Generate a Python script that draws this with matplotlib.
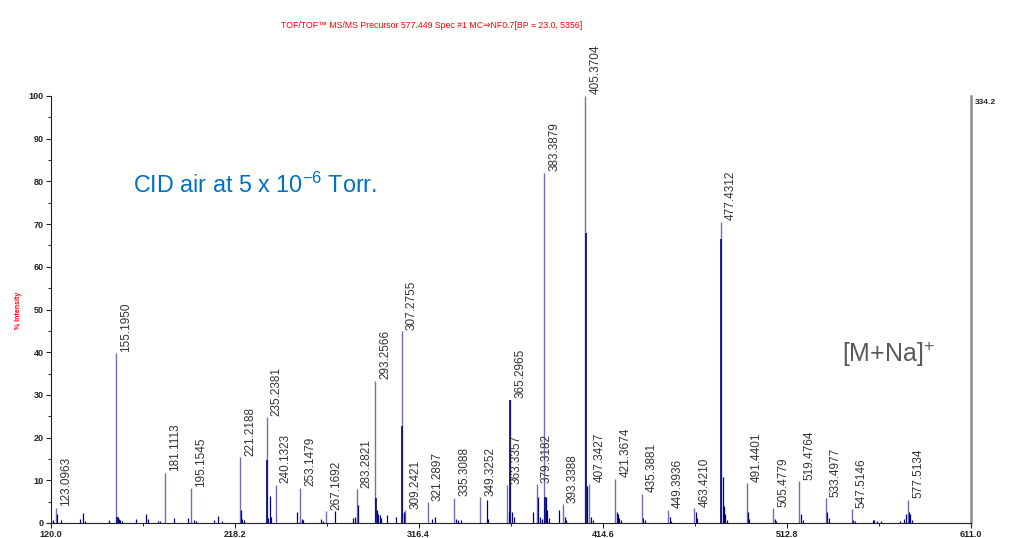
import matplotlib
matplotlib.use("Agg")
import matplotlib.pyplot as plt
from matplotlib.ticker import FixedLocator, MultipleLocator, FuncFormatter

plt.rcParams['font.family'] = ['Liberation Sans', 'DejaVu Sans']
plt.rcParams['mathtext.fontset'] = 'custom'
plt.rcParams['mathtext.rm'] = 'Liberation Sans'
plt.rcParams['mathtext.it'] = 'Liberation Sans'

# Annotated fragment ions (m/z, % intensity)
label_mz = [123.0963, 155.1950, 181.1113, 195.1545, 221.2188, 235.2381, 240.1323,
            253.1479, 267.1692, 283.2821, 293.2566, 307.2755, 309.2421, 321.2897,
            335.3088, 349.3252, 363.3357, 365.2965, 379.3182, 383.3879, 393.3388,
            405.3704, 407.3427, 421.3674, 435.3881, 449.3936, 463.4210, 477.4312,
            491.4401, 505.4779, 519.4764, 533.4977, 547.5146, 577.5134]
label_int = [3.6, 39.8, 11.8, 8.1, 15.4, 24.8, 8.9,
             8.2, 2.8, 7.9, 33.3, 44.9, 3.0, 4.9,
             5.9, 6.0, 8.8, 28.9, 9.1, 82.0, 4.4,
             100.0, 9.2, 10.4, 6.9, 3.1, 3.5, 70.5,
             9.3, 3.5, 9.8, 5.8, 3.2, 5.5]

# Dense core of the strongest profile peaks
core_mz = [155.35, 235.40, 293.40, 307.45, 365.30, 383.55, 405.50, 477.55]
core_int = [1.5, 14.7, 5.9, 22.7, 28.9, 6.0, 68.0, 66.5]

# Unlabelled minor signals
minor_mz = [120.5, 121.3, 123.5, 125.5, 135.5, 137.3, 138.5, 151.0, 156.0, 156.6,
            157.3, 158.0, 165.7, 171.1, 171.8, 177.5, 178.4, 185.7, 193.3, 196.4,
            197.5, 207.3, 209.6, 211.5, 221.6, 222.4, 223.3, 236.0, 237.0, 237.6,
            251.7, 254.0, 254.6, 264.5, 265.3, 271.8, 281.5, 282.2, 283.8, 294.0,
            294.8, 295.5, 296.5, 299.5, 304.5, 308.3, 308.8, 323.7, 325.2, 336.2,
            337.5, 339.0, 352.8, 353.6, 364.5, 366.3, 367.2, 377.5, 380.0, 381.0,
            382.2, 384.3, 385.0, 386.0, 391.5, 394.2, 395.0, 406.0, 408.4, 409.2,
            422.0, 422.7, 423.5, 424.5, 436.3, 437.0, 450.3, 451.0, 464.1, 465.0,
            478.5, 479.2, 480.0, 481.0, 491.8, 492.5, 506.2, 507.0, 520.4, 521.2,
            534.3, 535.0, 548.2, 549.0, 558.5, 559.2, 561.0, 563.0, 573.0, 575.5,
            576.5, 578.0, 578.6, 579.5]
minor_int = [0.7, 0.6, 2.0, 0.8, 0.9, 2.4, 0.5, 0.6, 1.4, 1.0,
             0.6, 0.4, 1.0, 2.0, 1.0, 0.4, 0.4, 1.1, 1.2, 0.7,
             0.5, 0.8, 1.7, 0.4, 3.1, 1.0, 0.6, 1.2, 6.3, 1.5,
             2.6, 1.0, 0.6, 1.0, 0.5, 2.7, 1.2, 1.5, 4.3, 3.0,
             2.2, 1.8, 1.2, 1.8, 1.3, 2.5, 2.0, 1.0, 1.3, 0.9,
             0.8, 0.6, 5.5, 1.0, 2.5, 2.5, 1.5, 2.5, 6.1, 1.5,
             1.0, 6.2, 3.0, 1.2, 3.0, 1.5, 0.8, 8.6, 1.5, 0.8,
             2.5, 2.0, 1.2, 0.6, 1.2, 0.6, 1.5, 0.5, 2.5, 1.2,
             10.8, 4.0, 2.0, 0.8, 2.5, 1.0, 1.0, 0.5, 2.0, 0.8,
             2.5, 1.2, 0.8, 0.5, 0.6, 0.8, 0.5, 0.4, 0.4, 1.0,
             2.0, 2.5, 2.0, 0.8]

x_ticks = [120.0, 218.2, 316.4, 414.6, 512.8, 611.0]
y_ticks = [0, 10, 20, 30, 40, 50, 60, 70, 80, 90, 100]

W, H = 1012, 538
fig = plt.figure(figsize=(W / 100, H / 100), dpi=100)
ax = fig.add_axes([50.5 / W, 15 / H, 920.5 / W, 427 / H])

light = '#6f6fc2'
dark = '#000080'
ax.vlines(label_mz, 0, label_int, colors=light, lw=1.0)
ax.vlines(minor_mz, 0, minor_int, colors=dark, lw=0.9)
ax.vlines(core_mz, 0, core_int, colors=dark, lw=1.2)

for mz, h in zip(label_mz, label_int):
    ax.annotate(f"{mz:.4f}", xy=(mz, h), xytext=(10, 1.5),
                textcoords='offset pixels', rotation=90, ha='center', va='bottom',
                fontsize=8.5, color='#333333', annotation_clip=False)

ax.set_xlim(x_ticks[0], x_ticks[-1])
ax.set_ylim(0, 100)

ax.xaxis.set_major_locator(FixedLocator(x_ticks))
ax.xaxis.set_minor_locator(FixedLocator([(a + b) / 2 for a, b in zip(x_ticks[:-1], x_ticks[1:])]))
ax.xaxis.set_major_formatter(FuncFormatter(lambda v, p: f"{v:.1f}"))
ax.yaxis.set_major_locator(FixedLocator(y_ticks))
ax.yaxis.set_minor_locator(MultipleLocator(5))

ax.tick_params(axis='both', which='major', direction='out', length=3.5, width=0.8,
               labelsize=6.5, pad=1.5, colors='#222222')
ax.tick_params(axis='both', which='minor', direction='out', length=2, width=0.7,
               colors='#222222')
for lab in ax.get_xticklabels() + ax.get_yticklabels():
    lab.set_fontweight('bold')

ax.spines['top'].set_visible(False)
ax.spines['left'].set_linewidth(0.8)
ax.spines['bottom'].set_linewidth(0.8)
ax.spines['left'].set_color('#222222')
ax.spines['bottom'].set_color('#222222')
ax.spines['right'].set_color('#8c8c8c')
ax.spines['right'].set_linewidth(1.8)

fig.text(975 / W, 1 - 102 / H, "334.2", fontsize=6, fontweight='bold',
         color='#222222', ha='left', va='center')

fig.text(432 / W, 1 - 25 / H,
         "TOF/TOF\u2122 MS/MS Precursor 577.449 Spec #1 MC\u21d2NF0.7[BP = 23.0, 5356]",
         fontsize=6.3, color='#ff0000', ha='center', va='center',
         family=['Liberation Sans', 'DejaVu Sans'])

fig.text(18 / W, 1 - 310 / H, "% Intensity", rotation=90, fontsize=5,
         fontweight='bold', color='#ff0000', ha='center', va='center')

fig.text(133 / W, 1 - 193 / H, r"CID air at 5 x 10$^{\mathrm{-6}}$ Torr.",
         fontsize=16.8, color='#0070c0', ha='left', va='baseline')

fig.text(842 / W, 1 - 362 / H, r"[M+Na]$^{\mathrm{+}}$",
         fontsize=18, color='#595959', ha='left', va='baseline')

fig.savefig("out.png", dpi=100)
